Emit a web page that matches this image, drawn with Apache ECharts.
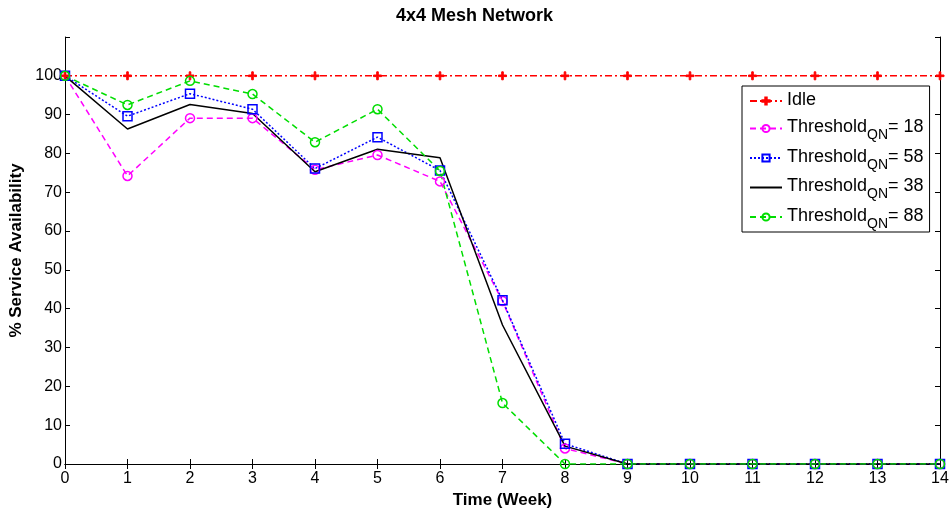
<!DOCTYPE html>
<html>
<head>
<meta charset="utf-8">
<script src="https://cdn.jsdelivr.net/npm/echarts@6/dist/echarts.min.js"></script>
<style>html,body{margin:0;padding:0;background:#fff;}#c{width:949px;height:508px;}</style>
</head>
<body>
<div id="c"></div>
<script>
const weeks = ['0','1','2','3','4','5','6','7','8','9','10','11','12','13','14'];
const idle = [100,100,100,100,100,100,100,100,100,100,100,100,100,100,100];
const thr18 = [100,74.2,89.1,89.1,75.8,79.6,72.8,42.0,4.0,0,0,0,0,0,0];
const thr58 = [100,89.6,95.4,91.4,76.1,84.2,75.6,42.2,5.2,0,0,0,0,0,0];
const thr38 = [100,86.3,92.6,90.3,75.3,81.1,78.9,35.8,4.6,0,0,0,0,0,0];
const thr88 = [100,92.5,98.7,95.3,82.9,91.4,75.5,15.7,0,0,0,0,0,0,0];
const yTicks = [0,10,20,30,40,50,60,70,80,90,100];
const legendLabels = {'Idle':null,'T18':'= 18','T58':'= 58','T38':'= 38','T88':'= 88'};

const FONT = '"Liberation Sans", Arial, Helvetica, sans-serif';
const chart = echarts.init(document.getElementById('c'), null, {renderer:'canvas'});

function mk(name, data, color, lineType, symbol, size, hollow){
  return {
    name: name, type: 'line', data: data,
    symbol: symbol, symbolSize: size, showSymbol: size > 0,
    lineStyle: {color: color, width: 1.5, type: lineType},
    itemStyle: hollow ? {color: 'rgba(0,0,0,0)', borderColor: color, borderWidth: 1.5}
      : (size > 0 ? {color: color, borderColor: color, borderWidth: 1}
                  : {color: 'rgba(0,0,0,0)', borderColor: 'rgba(0,0,0,0)', borderWidth: 0}),
    emphasis: {disabled: true}, animation: false
  };
}
const plusPath = 'path://M4,0h2v4h4v2h-4v4h-2v-4h-4v-2h4z';

const axisLine = {show: true, lineStyle: {color: '#000', width: 1}};
chart.setOption({
  backgroundColor: '#fff',
  title: {text: '4x4 Mesh Network', left: 'center', top: 2,
    textStyle: {fontFamily: FONT, fontWeight: 'bold', fontSize: 18, color: '#000'}},
  grid: {left: 65, right: 9, top: 37, bottom: 44, outerBoundsMode: 'none', containLabel: false},
  legend: {
    orient: 'vertical', left: 742, top: 86, width: 187,
    backgroundColor: '#fff', borderColor: '#000', borderWidth: 1,
    padding: [5, 6, 1, 7], itemGap: 5.5, itemWidth: 32, itemHeight: 9,
    data: ['Idle','T18','T58','T38','T88'],
    formatter: function(n){
      if (n === 'Idle') return '{a|Idle}';
      return '{a|Threshold}{s|QN}{a|' + legendLabels[n] + '}';
    },
    textStyle: {fontFamily: FONT, fontSize: 18, color: '#000',
      rich: {
        a: {fontFamily: FONT, fontSize: 18, color: '#000', verticalAlign: 'top', lineHeight: 20, padding: [0,0,4,0]},
        s: {fontFamily: FONT, fontSize: 14, color: '#000', verticalAlign: 'top', lineHeight: 14, padding: [10,0,0,0]}
      }}
  },
  xAxis: [{
    type: 'category', data: weeks, boundaryGap: false,
    name: 'Time (Week)', nameLocation: 'middle', nameGap: 22,
    nameTextStyle: {fontFamily: FONT, fontWeight: 'bold', fontSize: 17, color: '#000'},
    axisLine: axisLine,
    axisTick: {show: true, inside: true, length: 5, alignWithLabel: true, lineStyle: {color: '#000'}},
    axisLabel: {fontFamily: FONT, fontSize: 16, color: '#000', margin: 7},
    splitLine: {show: false}
  },{
    type: 'category', data: weeks, boundaryGap: false, position: 'top',
    axisLine: axisLine,
    axisTick: {show: true, inside: true, length: 5, lineStyle: {color: '#000'}},
    axisLabel: {show: false}, splitLine: {show: false}
  }],
  yAxis: [{
    type: 'value', min: 0, max: 110, interval: 10,
    name: '% Service Availability', nameLocation: 'middle', nameGap: 38, nameRotate: 90,
    nameTextStyle: {fontFamily: FONT, fontWeight: 'bold', fontSize: 17, color: '#000'},
    axisLine: axisLine,
    axisTick: {show: true, inside: true, length: 5, lineStyle: {color: '#000'}},
    axisLabel: {fontFamily: FONT, fontSize: 16, color: '#000', margin: 3,
      formatter: function(v){ return yTicks.indexOf(v) >= 0 ? String(v) : ''; }},
    splitLine: {show: false}
  },{
    type: 'value', min: 0, max: 110, interval: 10, position: 'right',
    axisLine: axisLine,
    axisTick: {show: true, inside: true, length: 5, lineStyle: {color: '#000'}},
    axisLabel: {show: false}, splitLine: {show: false}
  }],
  series: [
    mk('Idle', idle, '#ff0000', [7,3,2,3], plusPath, 8, false),
    mk('T18', thr18, '#ff00ff', [6,4], 'circle', 9, true),
    mk('T58', thr58, '#0000ff', [2,2], 'rect', 9, true),
    mk('T38', thr38, '#000000', 'solid', 'circle', 0, false),
    mk('T88', thr88, '#00dd00', [6,4], 'circle', 9, true)
  ]
});
</script>
</body>
</html>
